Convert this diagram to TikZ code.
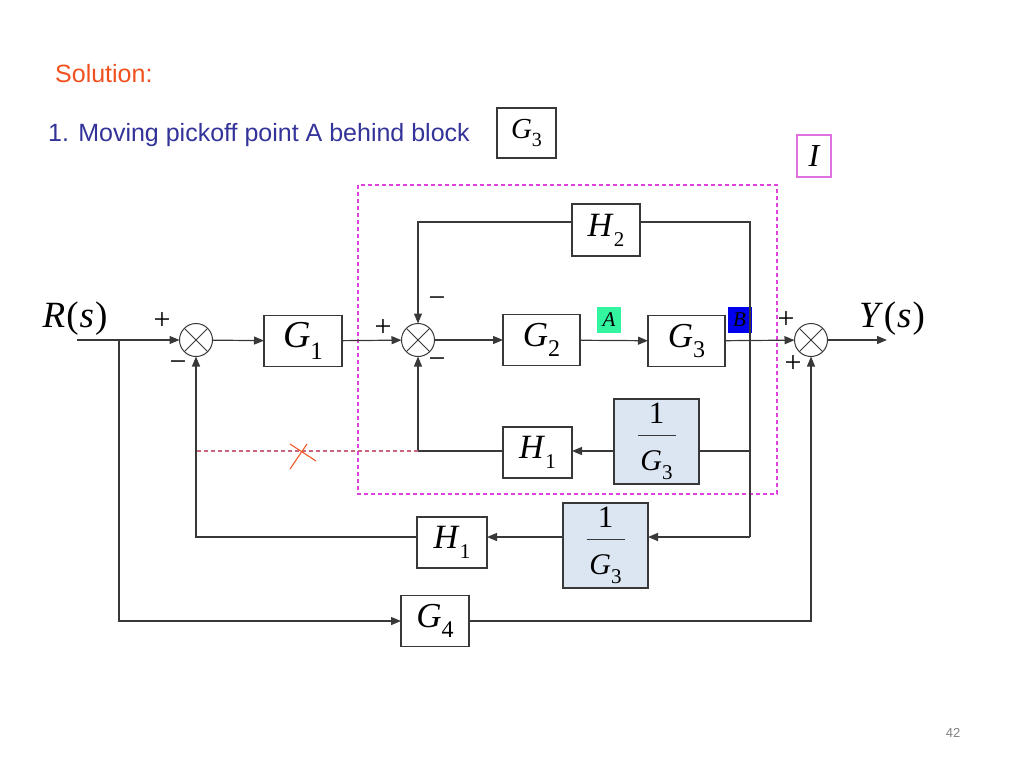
\documentclass[tikz,border=0pt]{standalone}
\usepackage{fontspec}
\setmainfont{Liberation Serif}
\newfontfamily\arialf{Liberation Sans}
\usetikzlibrary{arrows.meta,calc}
\definecolor{ln}{HTML}{383838}
\definecolor{solred}{HTML}{F0501E}
\definecolor{ttlblue}{HTML}{333399}
\definecolor{magd}{HTML}{E040E0}
\definecolor{pinkb}{HTML}{E070E0}
\definecolor{fillb}{HTML}{DCE6F2}
\definecolor{agreen}{HTML}{33F5A0}
\definecolor{bblue}{HTML}{0000EE}
\definecolor{dashbr}{HTML}{C8647A}
\definecolor{xorange}{HTML}{F05A28}
\newcommand{\BL}[4]{{\fontsize{#1}{#1}\selectfont\textit{#3}\raisebox{-0.3em}{\fontsize{#2}{#2}\selectfont #4}}}
\newcommand{\FS}[1]{\fontsize{#1}{#1}\selectfont}
\begin{document}
\begin{tikzpicture}[x=1pt,y=-1pt,
  line/.style={draw=ln,line width=1.2pt},
  arr/.style={line,-{Triangle[length=10pt,width=8pt]}},
  blk/.style={draw=ln,line width=1.2pt,fill=white,inner sep=0pt,outer sep=0pt},
  gblk/.style={blk,minimum width=77pt,minimum height=51pt},
  hblk/.style={blk,minimum width=69pt,minimum height=51pt},
  fblk/.style={blk,fill=fillb,minimum width=85pt,minimum height=85pt},
  sumj/.style={circle,draw=ln,line width=1pt,minimum size=33pt,inner sep=0pt,outer sep=0pt,fill=white},
  sgn/.style={font=\FS{30pt},inner sep=0pt},
  tag/.style={inner sep=0pt,minimum width=24pt,minimum height=26pt,font=\FS{21pt}\itshape}
]
\useasboundingbox (0,0) rectangle (1024,768);

% titles
\node[anchor=base west,inner sep=0pt,text=solred,font=\arialf\FS{25pt}] (sol) at (55,82) {Solution:};
\node[anchor=base west,inner sep=0pt,text=ttlblue,font=\arialf\FS{25pt}] (ttl) at (48,141) {1. Moving pickoff point A behind block};
\node[blk,minimum width=59pt,minimum height=50pt] (tg3) at (526.5,133) {\BL{29pt}{20pt}{G}{3}};
\node[draw=pinkb,line width=1.1pt,inner sep=0pt,minimum width=34pt,minimum height=42pt] (ibox) at (814,156) {\FS{32pt}\itshape I};

% dashed region
\draw[magd,line width=1.1pt,dash pattern=on 4pt off 3pt] (358,185) rectangle (777,494);

% blocks
\node[sumj] (s1) at (196,340) {};
\node[gblk,minimum width=78pt] (g1) at (303,341) {\BL{38pt}{25pt}{G}{1}};
\node[sumj] (s2) at (418,340) {};
\node[gblk] (g2) at (541.5,340) {\BL{35pt}{24pt}{G}{2}};
\node[gblk] (g3) at (686.5,341) {\BL{35pt}{24pt}{G}{3}};
\node[sumj] (s3) at (811,340) {};
\node[hblk,minimum width=68pt,minimum height=52pt] (h2) at (606,230) {\BL{34pt}{21pt}{H}{2}};
\node[fblk] (f1) at (656.5,441.5) {};
\node[hblk] (h1a) at (537.5,452.5) {\BL{34pt}{21pt}{H}{1}};
\node[fblk] (f2) at (605.5,545.5) {};
\node[hblk,minimum width=70pt] (h1b) at (452,542.5) {\BL{34pt}{21pt}{H}{1}};
\node[hblk,minimum width=68pt] (g4) at (435,621) {\BL{35pt}{24pt}{G}{4}};

% fractions
\foreach \f in {f1,f2}{
  \node[anchor=base,inner sep=0pt,font=\FS{31pt}] at ([yshift=18.5pt]\f.center) {1};
  \draw[ln,line width=1.2pt] ([xshift=-19pt,yshift=6pt]\f.center) -- ([xshift=19pt,yshift=6pt]\f.center);
  \node[anchor=base,inner sep=0pt] at ([yshift=-28.5pt]\f.center) {\BL{30pt}{21pt}{G}{3}};
}

% summing crosses
\foreach \s in {s1,s2,s3}{
  \draw[ln,line width=0.9pt] (\s.45) -- (\s.225) (\s.135) -- (\s.315);
}

% tags A, B
\node[tag,fill=agreen] (ta) at (609,320) {A};
\node[tag,fill=bblue] (tb) at (739.5,320) {B};

% coordinates
\coordinate (rin) at (77,340);
\coordinate (j1) at (119,340);
\coordinate (yout) at (887,340);
\coordinate (m1) at (750,451);
\coordinate (m2) at (750,537);
\coordinate (xm) at (302,452);

% main path
\draw[arr] (rin) -- (s1);
\draw[arr] (s1) -- (g1);
\draw[arr] (g1) -- (s2);
\draw[arr] (s2) -- (g2);
\draw[arr] (g2) -- (g3);
\draw[arr] (g3) -- (s3);
\draw[arr] (s3) -- (yout);
\draw[arr] (j1) |- (g4);
\draw[arr] (g4) -| (s3);

% H2 loop
\draw[arr] ([yshift=8pt]h2.west) -| (s2);
\draw[line] ([yshift=8pt]h2.east) -| (m2);

% inner H1 loop
\draw[line] (m1) -- (m1 -| f1.east);
\draw[arr] (m1 -| f1.west) -- (m1 -| h1a.east);
\draw[arr] (m1 -| h1a.west) -| (s2);
\draw[dashbr,line width=1.1pt,dash pattern=on 4pt off 3pt] (m1 -| s2) -- (m1 -| s1);
\draw[xorange,line width=1.1pt] ([xshift=-12pt,yshift=8pt]xm) -- ([xshift=14pt,yshift=-9pt]xm)
  ([xshift=5pt,yshift=8pt]xm) -- ([xshift=-12pt,yshift=-17pt]xm);

% outer H1 loop
\draw[arr] (m2) -- (m2 -| f2.east);
\draw[arr] (m2 -| f2.west) -- (m2 -| h1b.east);
\draw[arr] (m2 -| h1b.west) -| (s1);

% signs
\node[sgn] (p1) at (162,321) {+};
\node[sgn] (n1) at (178,366) {−};
\node[sgn] (p2) at (383,328) {+};
\node[sgn] (n2) at (437,302) {−};
\node[sgn] (n3) at (437,363) {−};
\node[sgn] (p3) at (786,320) {+};
\node[sgn] (p4) at (793,364) {+};

% signal labels
\node[anchor=base,inner sep=0pt,font=\FS{37pt}] (rs) at (75,327) {\textit{R}\kern1pt(\kern1pt\textit{s}\kern1pt)};
\node[anchor=base,inner sep=0pt,font=\FS{37pt}] (ys) at (892,327) {\textit{Y}\kern1pt(\kern1pt\textit{s}\kern1pt)};

% page number
\node[inner sep=0pt,text=black!50,font=\arialf\FS{13pt}] (pg) at (953,733) {42};
\end{tikzpicture}
\end{document}
